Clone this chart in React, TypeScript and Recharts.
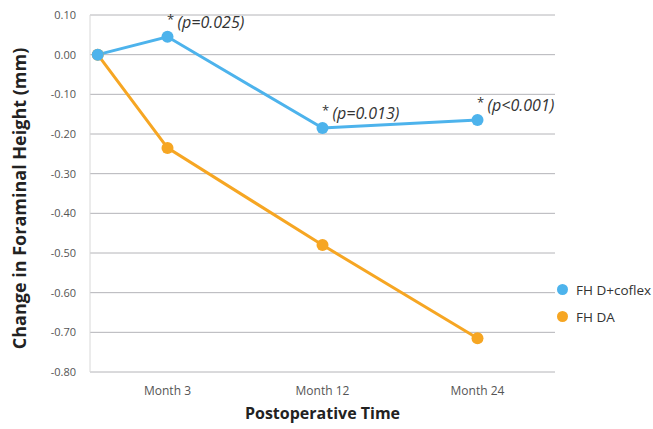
import React from 'react';
import { LineChart, Line, XAxis, YAxis, CartesianGrid, Legend, Label, LabelList } from 'recharts';

// x positions on the category scale (0..3), baseline sits at the left edge
const xPositions = [0.05, 0.5, 1.5, 2.5];
const timeLabels = ['', 'Month 3', 'Month 12', 'Month 24'];
const fhCoflex = [0.0, 0.045, -0.185, -0.165];
const fhDA = [0.0, -0.235, -0.48, -0.715];
const pValues = ['', '(p=0.025)', '(p=0.013)', '(p<0.001)'];
const yTicks = [0.1, 0, -0.1, -0.2, -0.3, -0.4, -0.5, -0.6, -0.7, -0.8];

const COLORS = {
  blue: '#4db3ec',
  orange: '#f6a623',
  grid: '#b4b4b8',
  tick: '#555555',
  text: '#333333',
};

const series = [
  { key: 'coflex', name: 'FH D+coflex', color: COLORS.blue },
  { key: 'da', name: 'FH DA', color: COLORS.orange },
];

const data = xPositions.map((x, i) => ({
  x,
  coflex: fhCoflex[i],
  da: fhDA[i],
  p: pValues[i],
}));

const FONT = '"Open Sans", "Noto Sans", sans-serif';

const PLabel = (props: any) => {
  const { x, y, value } = props;
  if (!value) return null;
  return (
    <g>
      <text x={x + 3} y={y - 13} fontSize={13} fill={COLORS.text} textAnchor="middle" fontFamily={FONT}>
        *
      </text>
      <text x={x + 10} y={y - 9} fontSize={16} fontStyle="italic" fill={COLORS.text} fontFamily={FONT}>
        {value}
      </text>
    </g>
  );
};

const LegendBox = () => (
  <div style={{ fontFamily: FONT, fontSize: 13.5, color: COLORS.text }}>
    {series.map((s) => (
      <div key={s.key} style={{ display: 'flex', alignItems: 'center', height: 27 }}>
        <span
          style={{
            width: 11,
            height: 11,
            borderRadius: 6,
            background: s.color,
            display: 'inline-block',
            marginRight: 8,
          }}
        />
        {s.name}
      </div>
    ))}
  </div>
);

export default function App() {
  return (
    <div style={{ position: 'absolute', left: 0, top: 0, width: 653, height: 429, background: '#fff', fontFamily: FONT }}>
      <LineChart width={653} height={429} data={data} margin={{ top: 15, right: 98, left: 0, bottom: 0 }}>
        <CartesianGrid vertical={false} stroke={COLORS.grid} />
        <XAxis
          type="number"
          dataKey="x"
          domain={[0, 3]}
          ticks={[0.5, 1.5, 2.5]}
          tickFormatter={(v: number) => timeLabels[xPositions.indexOf(v)] ?? ''}
          height={57}
          axisLine={false}
          tickLine={false}
          tickMargin={8}
          tick={{ fontSize: 12, fill: COLORS.tick, fontFamily: FONT }}
        >
          <Label
            value="Postoperative Time"
            position="insideBottom"
            offset={10}
            style={{ fontSize: 16, fontWeight: 700, fill: '#222', fontFamily: FONT }}
          />
        </XAxis>
        <YAxis
          type="number"
          domain={[-0.8, 0.1]}
          ticks={yTicks}
          tickFormatter={(v: number) => v.toFixed(2)}
          width={90}
          axisLine={{ stroke: '#d8d8d8' }}
          tickLine={false}
          tickMargin={8}
          tick={{ fontSize: 11, fill: COLORS.tick, fontFamily: FONT }}
        >
          <Label
            value="Change in Foraminal Height (mm)"
            angle={-90}
            position="center"
            dx={-25}
            dy={5}
            style={{ fontSize: 18, fontWeight: 700, fill: '#222', fontFamily: FONT }}
          />
        </YAxis>
        <Legend
          layout="vertical"
          align="center"
          verticalAlign="middle"
          wrapperStyle={{ left: 557, top: 276, width: 100 }}
          content={() => <LegendBox />}
        />
        <Line
          dataKey="da"
          name="FH DA"
          stroke={COLORS.orange}
          strokeWidth={3}
          dot={{ r: 6, fill: COLORS.orange, stroke: COLORS.orange, strokeWidth: 0 }}
          activeDot={false}
          isAnimationActive={false}
        />
        <Line
          dataKey="coflex"
          name="FH D+coflex"
          stroke={COLORS.blue}
          strokeWidth={3}
          dot={{ r: 6, fill: COLORS.blue, stroke: COLORS.blue, strokeWidth: 0 }}
          activeDot={false}
          isAnimationActive={false}
        >
          <LabelList dataKey="p" content={PLabel} />
        </Line>
      </LineChart>
    </div>
  );
}
